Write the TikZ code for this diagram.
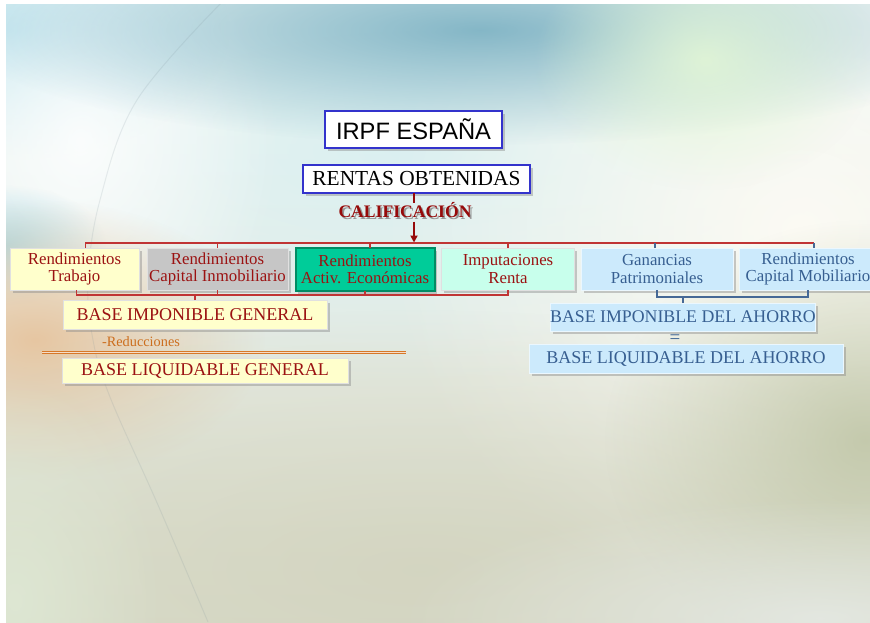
\documentclass[tikz,border=0pt]{standalone}
\usepackage{fontspec}
\setmainfont{Liberation Serif}
\newfontfamily\arialfont{Liberation Sans}
\usetikzlibrary{shadows,fadings,arrows.meta}

\definecolor{txtred}{RGB}{155,18,18}
\definecolor{linered}{RGB}{192,52,52}
\definecolor{darkred}{RGB}{150,10,10}
\definecolor{txtblue}{RGB}{55,95,145}
\definecolor{lineblue}{RGB}{70,105,150}
\definecolor{boxyellow}{RGB}{255,255,204}
\definecolor{boxgrey}{RGB}{198,198,198}
\definecolor{boxteal}{RGB}{0,204,153}
\definecolor{tealedge}{RGB}{0,140,100}
\definecolor{boxmint}{RGB}{200,255,236}
\definecolor{boxblue}{RGB}{204,234,252}
\definecolor{titleblue}{RGB}{51,51,204}
\definecolor{orangetxt}{RGB}{204,110,30}
\definecolor{orangeline}{RGB}{215,120,40}
\definecolor{textshadow}{RGB}{150,150,150}
% background tones
\definecolor{bg0}{RGB}{211,212,191}
\definecolor{bg1}{RGB}{221,224,208}
\definecolor{bg2}{RGB}{232,238,232}
\definecolor{bg3}{RGB}{245,249,245}
\definecolor{bg4}{RGB}{236,246,246}
\definecolor{bg5}{RGB}{207,233,238}
\definecolor{skycyan}{RGB}{168,220,234}
\definecolor{skyteal}{RGB}{122,176,194}
\definecolor{skymist}{RGB}{212,238,240}
\definecolor{skygreen}{RGB}{226,246,214}
\definecolor{creamwhite}{RGB}{253,251,244}
\definecolor{edgecyan}{RGB}{160,214,230}
\definecolor{sandpeach}{RGB}{230,196,158}
\definecolor{groundbeige}{RGB}{205,205,182}
\definecolor{groundgreen}{RGB}{190,196,164}
\definecolor{mossyleft}{RGB}{222,232,212}
\definecolor{cornerpale}{RGB}{228,232,226}
\definecolor{arcgrey}{RGB}{120,140,150}

\pgfdeclareverticalshading{bgshade}{100bp}{color(0bp)=(bg0); color(32bp)=(bg1); color(52bp)=(bg2); color(68bp)=(bg3); color(84bp)=(bg4); color(100bp)=(bg5)}
\tikzfading[name=softblob, inner color=transparent!0, outer color=transparent!100]

% bold caption with a soft offset shadow under it
\newcommand{\shadowedcaption}[1]{\rlap{\hspace*{1.8pt}\raisebox{-1.8pt}{\textcolor{textshadow}{#1}}}#1}

\tikzset{
  every node/.style={inner sep=0pt, outer sep=0pt},
  boxshadow/.style={drop shadow={shadow xshift=2.5pt, shadow yshift=-2.5pt, fill=black!45, opacity=.45}},
  catbox/.style={minimum height=42pt, align=center, boxshadow,
    font=\fontsize{16.8}{17.5}\selectfont, draw=black!12, line width=.6pt},
  redcat/.style={catbox, text=txtred},
  bluecat/.style={catbox, text=txtblue, fill=boxblue, draw=white!60!boxblue},
  basebox/.style={align=center, boxshadow, font=\fontsize{18}{20}\selectfont,
    draw=black!12, line width=.6pt},
  titlebox/.style={draw=titleblue, line width=2pt, fill=white, boxshadow},
  redline/.style={draw=linered, line width=1.3pt},
  blueline/.style={draw=lineblue, line width=1.3pt},
  blob/.style={fill=#1, path fading=softblob}
}

\begin{document}
\begin{tikzpicture}[x=1pt,y=-1pt]
\useasboundingbox (0,0) rectangle (870,622);
\fill[white] (0,0) rectangle (870,622);

% ---------- backdrop ----------
\begin{scope}
  \clip (6,4) rectangle (870,622);
  \shade[shading=bgshade] (6,4) rectangle (870,622);
  \fill[blob=skymist, fill opacity=.8] (420,150) ellipse [x radius=600pt, y radius=240pt];
  \fill[blob=creamwhite, fill opacity=.95] (800,230) ellipse [x radius=420pt, y radius=380pt];
  \fill[blob=skycyan, fill opacity=.9] (10,30) ellipse [x radius=220pt, y radius=130pt];
  \fill[blob=white, fill opacity=.85] (80,140) ellipse [x radius=200pt, y radius=250pt];
  \fill[blob=skyteal, fill opacity=.9] (480,30) ellipse [x radius=520pt, y radius=115pt];
  \fill[blob=skygreen, fill opacity=.9] (705,60) ellipse [x radius=170pt, y radius=130pt];
  \fill[blob=edgecyan, fill opacity=.8] (6,245) ellipse [x radius=100pt, y radius=60pt];
  \fill[blob=sandpeach, fill opacity=.95] (35,340) ellipse [x radius=230pt, y radius=140pt];
  \fill[blob=groundbeige, fill opacity=.55] (420,570) ellipse [x radius=720pt, y radius=260pt];
  \fill[blob=groundgreen, fill opacity=.85] (865,440) ellipse [x radius=260pt, y radius=220pt];
  \fill[blob=mossyleft, fill opacity=.9] (15,600) ellipse [x radius=150pt, y radius=220pt];
  \fill[blob=cornerpale, fill opacity=.95] (820,618) ellipse [x radius=420pt, y radius=120pt];
  \draw[arcgrey, line width=1pt, opacity=.15]
    plot[smooth, tension=.6] coordinates {(224,0) (137,100) (100,200) (88,280) (93,340) (110,397) (158,505) (208,622)};
\end{scope}

% ---------- title and root ----------
\node[titlebox, minimum width=177pt, minimum height=37pt,
      font=\arialfont\fontsize{23.7}{26}\selectfont] (irpf) at (413.5,129.5) {IRPF ESPAÑA};
\node[titlebox, minimum width=227pt, minimum height=28pt,
      font=\fontsize{21.4}{24}\selectfont] (rentas) at (416.5,179) {RENTAS OBTENIDAS};

\node[text=darkred, font=\bfseries\fontsize{17.6}{20}\selectfont] (calif) at (405,211) {\shadowedcaption{CALIFICACIÓN}};

% ---------- income categories ----------
\node[redcat, fill=boxyellow, minimum width=129pt] (trab) at (74.5,269) {Rendimientos\\Trabajo};
\node[redcat, fill=boxgrey, minimum width=141pt] (capi) at (217.5,269) {Rendimientos\\Capital Inmobiliario};
\node[redcat, fill=boxteal, draw=tealedge, line width=2pt, minimum width=139pt, minimum height=43pt] (acti) at (365,269.5) {Rendimientos\\Activ. Económicas};
\node[redcat, fill=boxmint, minimum width=133pt] (impu) at (508,269) {Imputaciones\\Renta};
\node[bluecat, minimum width=152pt] (gana) at (657,269) {Ganancias\\Patrimoniales};
\node[bluecat, minimum width=138pt] (capm) at (808,269) {Rendimientos\\Capital Mobiliario};

% ---------- classification bus ----------
\coordinate (bus) at (414,243);
\draw[darkred, line width=2pt] (rentas.south -| bus) -- ++(0,9.5);
\draw[darkred, line width=2pt, -{Triangle[length=7pt,width=7pt]}] (calif.south -| bus) ++(0,2) -- ([yshift=.5pt]bus);
\draw[redline] ([xshift=11pt]trab.north) -- ([xshift=11pt]trab.north |- bus)
  -- ([xshift=6pt]capm.north |- bus);
\foreach \n in {capi,impu} \draw[redline] (\n.north) -- (\n.north |- bus);
\draw[redline] ([xshift=5pt]acti.north) -- ([xshift=5pt]acti.north |- bus);
\draw[blueline] ([xshift=-2pt]gana.north) -- ([xshift=-2pt]gana.north |- bus);
\draw[blueline] ([xshift=6pt]capm.north) -- ([xshift=6pt]capm.north |- bus);

% ---------- general base ----------
\node[basebox, fill=boxyellow, text=txtred, minimum width=264pt, minimum height=29pt] (big) at (195,314.5) {BASE IMPONIBLE GENERAL};
\node[text=orangetxt, font=\fontsize{14.3}{16}\selectfont] (redu) at (141,342) {-Reducciones};
\coordinate (ruleL) at (42,352.5);
\coordinate (ruleR) at (406,352.5);
\draw[orangeline, double=orangeline!25!white, double distance=1pt, line width=.8pt] (ruleL) -- (ruleR);
\node[basebox, fill=boxyellow, text=txtred, minimum width=286pt, minimum height=25pt] (blg) at (205,370.5) {BASE LIQUIDABLE GENERAL};

\coordinate (lb) at (195,295);
\draw[redline] ([xshift=2pt]trab.south) -- ([xshift=2pt]trab.south |- lb) -- (impu.south |- lb) -- (impu.south);
\draw[redline] (capi.south) -- (capi.south |- lb);
\draw[redline] (acti.south) -- (acti.south |- lb);
\draw[redline] (big.north) -- (big.north |- lb);

% ---------- savings base ----------
\node[basebox, fill=boxblue, draw=white!60!boxblue, text=txtblue, minimum width=264pt, minimum height=28pt,
      font=\fontsize{17.8}{20}\selectfont] (bia) at (683,317) {BASE IMPONIBLE DEL AHORRO};
\node[text=txtblue, font=\fontsize{19}{20}\selectfont] (eq) at (675,339.5) {=};
\node[basebox, fill=boxblue, draw=white!60!boxblue, text=txtblue, minimum width=314pt, minimum height=29pt] (bla) at (686,358.5) {BASE LIQUIDABLE DEL AHORRO};

\coordinate (rb) at (683,297);
\draw[blueline] (gana.south) -- (gana.south |- rb) -- (capm.south |- rb) -- (capm.south);
\draw[blueline] (bia.north) -- (bia.north |- rb);
\end{tikzpicture}
\end{document}
